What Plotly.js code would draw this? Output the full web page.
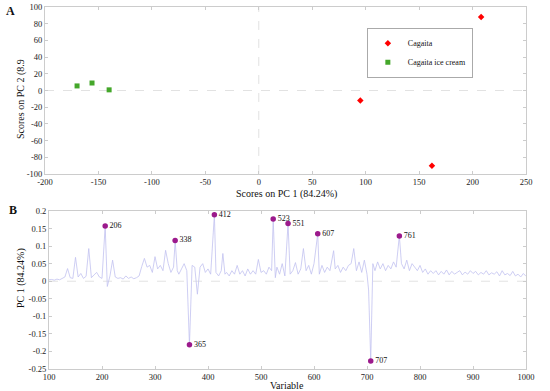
<!DOCTYPE html>
<html>
<head>
<meta charset="utf-8">
<script src="https://cdn.plot.ly/plotly-3.0.1.min.js"></script>
<style>html,body{margin:0;padding:0;background:#fff;}#chart{width:550px;height:391px;}</style>
</head>
<body>
<div id="chart"></div>
<script>
// ---- Panel A: PCA scores ----
var cagaitaPC1 = [95, 162, 208];
var cagaitaPC2 = [-12, -90, 88];
var iceCreamPC1 = [-170, -156, -140];
var iceCreamPC2 = [5.5, 9, 0.8];

var aTickX = [-200, -150, -100, -50, 0, 50, 100, 150, 200, 250];
var aTickXText = ["-200", "-150", "-100", "-50", "0", "50", "100", "150", "200", "250"];
var aTickY = [-100, -80, -60, -40, -20, 0, 20, 40, 60, 80, 100];
var aTickYText = ["-100", "-80", "-60", "-40", "-20", "0", "20", "40", "60", "80", "100"];

// ---- Panel B: PC1 loadings ----
var variable = [100,105,110,115,120,125,130,135,140,145,150,155,160,165,170,175,180,185,190,195,200,206,210,215,220,225,230,235,240,245,250,255,260,265,270,275,280,285,290,295,300,305,310,315,320,325,330,335,338,342,345,350,355,360,365,370,375,380,385,390,395,400,405,412,415,420,425,428,432,435,440,445,450,455,460,465,470,475,480,485,490,495,500,505,510,515,520,523,527,530,535,540,545,551,555,560,565,570,575,580,585,590,595,600,607,610,615,620,625,630,637,640,645,650,655,660,665,670,675,680,685,690,695,700,703,707,711,715,720,725,730,735,740,745,750,755,758,761,765,770,775,780,785,790,795,800,805,810,815,820,825,830,835,840,845,850,855,860,865,870,875,880,885,890,895,900,905,910,915,920,925,930,935,940,945,950,955,960,965,970,975,980,985,990,995,1000];
var loading = [0.004,0.005,0.003,0.006,0.004,0.008,0.012,0.036,0.010,0.008,0.068,0.012,0.022,0.008,0.014,0.093,0.010,0.018,0.025,0.012,0.008,0.157,-0.015,0.015,0.060,0.012,0.008,0.010,0.006,0.015,0.008,0.012,0.007,0.010,0.015,0.042,0.065,0.040,0.045,0.025,0.070,0.035,0.045,0.030,0.088,0.050,0.025,0.040,0.116,0.030,0.020,0.035,0.050,0.030,-0.181,0.045,0.040,-0.037,0.040,0.050,0.025,0.035,0.020,0.189,0.025,0.015,0.030,0.079,0.020,0.025,0.015,0.030,0.020,0.045,0.020,0.030,0.015,0.035,0.020,0.030,0.020,0.062,0.025,0.030,0.020,0.040,0.030,0.177,0.010,0.040,0.020,0.050,0.015,0.164,0.020,0.030,0.053,0.020,0.035,0.093,0.030,0.045,0.020,0.050,0.135,0.020,0.045,0.025,0.040,0.030,0.087,0.035,0.045,0.025,0.040,0.030,0.045,0.050,0.093,0.030,0.055,0.025,0.060,0.020,-0.025,-0.227,0.050,0.030,0.055,0.035,0.050,0.030,0.045,0.035,0.055,0.040,0.080,0.129,0.050,0.035,0.060,0.030,0.050,0.040,0.030,0.045,0.025,0.035,0.020,0.030,0.022,0.030,0.018,0.028,0.020,0.032,0.018,0.028,0.020,0.025,0.030,0.018,0.026,0.020,0.030,0.022,0.028,0.018,0.025,0.020,0.030,0.018,0.024,0.020,0.027,0.015,0.030,0.018,0.022,0.016,0.028,0.015,0.020,0.012,0.022,0.014];

var peakVariable = [206, 338, 365, 412, 523, 551, 607, 707, 761];
var peakLoading = [0.157, 0.116, -0.181, 0.189, 0.177, 0.164, 0.135, -0.227, 0.129];
var peakLabels = ["206", "338", "365", "412", "523", "551", "607", "707", "761"];

var bTickX = [100, 200, 300, 400, 500, 600, 700, 800, 900, 1000];
var bTickXText = ["100", "200", "300", "400", "500", "600", "700", "800", "900", "1000"];
var bTickY = [-0.25, -0.2, -0.15, -0.1, -0.05, 0, 0.05, 0.1, 0.15, 0.2];
var bTickYText = ["-0.25", "-0.2", "-0.15", "-0.1", "-0.05", "0", "0.05", "0.1", "0.15", "0.2"];

var titleA_x = "Scores on PC 1 (84.24%)";
var titleA_y = "Scores on PC 2 (8.9";
var titleB_x = "Variable";
var titleB_y = "PC 1 (84.24%)";

var FONT = "'Liberation Serif', 'Times New Roman', serif";
var axisCommon = {
  showline: true, linecolor: "#cccccc", linewidth: 1, mirror: "ticks",
  ticks: "inside", ticklen: 3, tickcolor: "#cccccc",
  showgrid: false, zeroline: false,
  tickfont: {family: FONT, size: 8.5, color: "#222"},
  tickmode: "array"
};
function ax(extra) { return Object.assign({}, axisCommon, extra); }

var traces = [
  {x: cagaitaPC1, y: cagaitaPC2, type: "scatter", mode: "markers", name: "Cagaita",
   xaxis: "x", yaxis: "y",
   marker: {symbol: "diamond", size: 5, color: "#ff0000"}},
  {x: iceCreamPC1, y: iceCreamPC2, type: "scatter", mode: "markers", name: "Cagaita ice cream",
   xaxis: "x", yaxis: "y",
   marker: {symbol: "square", size: 5, color: "#44a72a"}},
  {x: variable, y: loading, type: "scatter", mode: "lines", showlegend: false,
   xaxis: "x2", yaxis: "y2",
   line: {color: "#c2c2f0", width: 0.8}},
  {x: peakVariable, y: peakLoading, type: "scatter", mode: "markers+text", showlegend: false,
   xaxis: "x2", yaxis: "y2", text: peakLabels, textposition: "middle right",
   textfont: {family: FONT, size: 8, color: "#111"},
   marker: {size: 5.5, color: "#9c1a8c"}}
];

var titleFont = {family: FONT, size: 10, color: "#111"};
var layout = {
  width: 550, height: 391,
  margin: {l: 0, r: 0, t: 0, b: 0},
  paper_bgcolor: "#fff", plot_bgcolor: "#fff",
  showlegend: true,
  legend: {x: 0.667, y: 0.929, xanchor: "left", yanchor: "top",
           bgcolor: "#fff", bordercolor: "#aaa", borderwidth: 1,
           font: {family: FONT, size: 8, color: "#111"},
           itemwidth: 30, tracegroupgap: 0},
  xaxis: ax({domain: [0.0818, 0.9564], range: [-200, 250], anchor: "y",
             tickvals: aTickX, ticktext: aTickXText}),
  yaxis: ax({domain: [0.555, 0.982], range: [-100, 100], anchor: "x",
             tickvals: aTickY, ticktext: aTickYText}),
  xaxis2: ax({domain: [0.0891, 0.9564], range: [100, 1000], anchor: "y2",
              tickvals: bTickX, ticktext: bTickXText}),
  yaxis2: ax({domain: [0.0563, 0.4604], range: [-0.25, 0.2], anchor: "x2",
              tickvals: bTickY, ticktext: bTickYText}),
  shapes: [
    {type: "line", xref: "x", yref: "y domain", x0: 0, x1: 0, y0: 0, y1: 1,
     line: {color: "#e2e2e2", width: 1, dash: "dash"}, layer: "below"},
    {type: "line", xref: "x domain", yref: "y", x0: 0, x1: 1, y0: 0, y1: 0,
     line: {color: "#e2e2e2", width: 1, dash: "dash"}, layer: "below"},
    {type: "line", xref: "x2 domain", yref: "y2", x0: 0, x1: 1, y0: 0, y1: 0,
     line: {color: "#e2e2e2", width: 1, dash: "dash"}, layer: "below"}
  ],
  annotations: [
    {text: "<b>A</b>", xref: "paper", yref: "paper", x: 10/550, y: 1 - 11/391,
     xanchor: "center", yanchor: "middle", showarrow: false,
     font: {family: FONT, size: 12, color: "#111"}},
    {text: "<b>B</b>", xref: "paper", yref: "paper", x: 13/550, y: 1 - 210/391,
     xanchor: "center", yanchor: "middle", showarrow: false,
     font: {family: FONT, size: 12, color: "#111"}},
    {text: titleA_x, xref: "paper", yref: "paper", x: 286/550, y: 1 - 194/391,
     xanchor: "center", yanchor: "middle", showarrow: false, font: titleFont},
    {text: titleA_y, xref: "paper", yref: "paper", x: 21/550, y: 1 - 99/391,
     xanchor: "center", yanchor: "middle", showarrow: false, textangle: -90, font: titleFont},
    {text: titleB_x, xref: "paper", yref: "paper", x: 287/550, y: 1 - 385.5/391,
     xanchor: "center", yanchor: "middle", showarrow: false, font: titleFont},
    {text: titleB_y, xref: "paper", yref: "paper", x: 21/550, y: 1 - 278/391,
     xanchor: "center", yanchor: "middle", showarrow: false, textangle: -90, font: titleFont}
  ]
};

Plotly.newPlot("chart", traces, layout, {staticPlot: true, displayModeBar: false});
</script>
</body>
</html>
